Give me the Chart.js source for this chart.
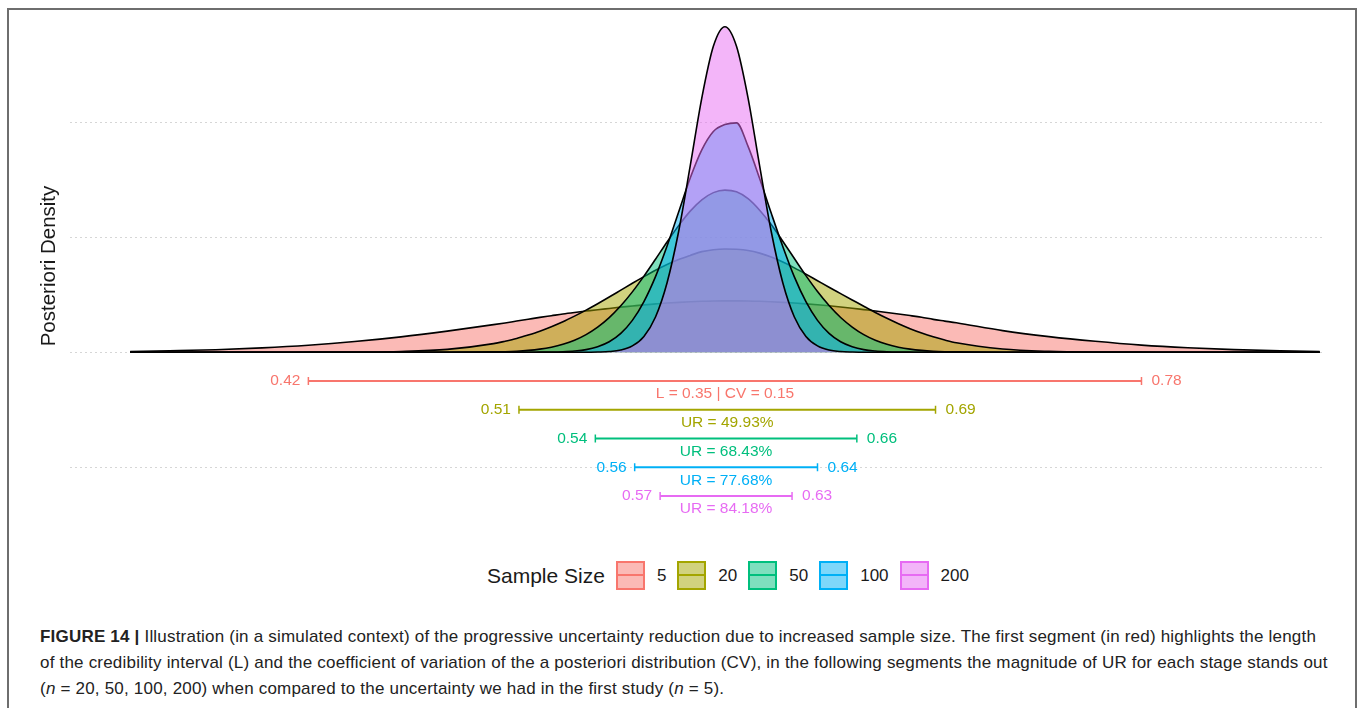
<!DOCTYPE html>
<html>
<head>
<meta charset="utf-8">
<script src="https://cdn.jsdelivr.net/npm/chart.js@4.4.1/dist/chart.umd.min.js"></script>
<style>
  body { margin: 0; background: #fff; font-family: "Liberation Sans", Arial, sans-serif; }
  #frame { position: absolute; left: 7px; top: 8px; width: 1346px; height: 720px;
           border: 2px solid #6e6e6e; border-bottom: none; }
  #wrap { position: absolute; left: 0; top: 0; width: 1357px; height: 540px; }
  #legend { position: absolute; left: 487px; top: 561px; height: 29px; display: flex; align-items: center;
            color: #1a1a1a; }
  #legend .title { font-size: 21px; margin-right: 11px; }
  #legend .box { position: relative; width: 25px; height: 25px; border: 2px solid; margin-right: 12px; }
  #legend .box::after { content: ""; position: absolute; left: 0; right: 0; top: 11px; height: 2px; background: currentColor; }
  #legend .lab { font-size: 17px; margin-right: 11px; }
  #caption { position: absolute; left: 40px; top: 624px; width: 1300px; font-size: 17px; line-height: 26px;
             letter-spacing: 0.2px; color: #222; white-space: nowrap; }
</style>
</head>
<body>
<div id="frame"></div>
<div id="wrap"><canvas id="chartDensity" width="1357" height="540"></canvas></div>
<div id="legend"></div>
<div id="caption">
  <b>FIGURE 14 |</b> Illustration (in a simulated context) of the progressive uncertainty reduction due to increased sample size. The first segment (in red) highlights the length<br>
  of the credibility interval (L) and the coefficient of variation of the a posteriori distribution (CV), in the following segments the magnitude of UR for each stage stands out<br>
  (<i>n</i> = 20, 50, 100, 200) when compared to the uncertainty we had in the first study (<i>n</i> = 5).
</div>
<script>
// Sample sizes and colours
const sampleSizes = ['5', '20', '50', '100', '200'];
const sizeColors = ['#F8766D', '#A3A500', '#00BF7D', '#00B0F6', '#E76BF3'];

// x grid of the density curves (posterior value)
const densityX = [0.343, 0.36, 0.38, 0.40, 0.42, 0.44, 0.46, 0.48,
  0.50, 0.505, 0.51, 0.515, 0.52, 0.525, 0.53, 0.535, 0.54, 0.545, 0.55, 0.555, 0.56, 0.565, 0.57, 0.575, 0.58, 0.585, 0.59, 0.595,
  0.60,
  0.605, 0.61, 0.615, 0.62, 0.625, 0.63, 0.635, 0.64, 0.645, 0.65, 0.655, 0.66, 0.665, 0.67, 0.675, 0.68, 0.685, 0.69, 0.695, 0.70,
  0.72, 0.74, 0.76, 0.78, 0.80, 0.82, 0.84, 0.857];

const density5 = [0.07, 0.13, 0.22, 0.38, 0.61, 0.93, 1.34, 1.84,
  2.40, 2.55, 2.71, 2.87, 3.03, 3.18, 3.33, 3.46, 3.58, 3.70, 3.81, 3.92, 4.02, 4.12, 4.21, 4.28, 4.34, 4.39, 4.43, 4.46,
  4.47,
  4.47, 4.46, 4.43, 4.39, 4.34, 4.28, 4.21, 4.13, 4.04, 3.94, 3.83, 3.71, 3.59, 3.46, 3.33, 3.19, 3.04, 2.86, 2.71, 2.56,
  1.88, 1.36, 0.95, 0.62, 0.39, 0.23, 0.13, 0.07];

const density20 = [0, 0, 0, 0, 0.01, 0.02, 0.07, 0.25,
  0.75, 0.96, 1.20, 1.50, 1.83, 2.22, 2.65, 3.14, 3.66, 4.22, 4.80, 5.40, 6.00, 6.58, 7.13, 7.63, 8.06, 8.42, 8.75, 8.92,
  8.98,
  8.95, 8.85, 8.62, 8.28, 7.85, 7.34, 6.79, 6.22, 5.65, 5.10, 4.55, 4.00, 3.46, 2.95, 2.48, 2.05, 1.67, 1.34, 1.06, 0.82,
  0.28, 0.08, 0.02, 0.01, 0, 0, 0, 0];

const density50 = [0, 0, 0, 0, 0, 0, 0, 0,
  0.03, 0.05, 0.09, 0.16, 0.27, 0.44, 0.69, 1.04, 1.53, 2.18, 3.01, 4.04, 5.25, 6.62, 8.09, 9.59, 11.01, 12.27, 13.25, 13.88,
  14.1,
  13.95, 13.35, 12.35, 11.1, 9.65, 8.15, 6.66, 5.28, 4.06, 3.02, 2.19, 1.53, 1.04, 0.69, 0.44, 0.27, 0.16, 0.09, 0.05, 0.03,
  0, 0, 0, 0, 0, 0, 0, 0];

const density100 = [0, 0, 0, 0, 0, 0, 0, 0,
  0, 0, 0, 0, 0.01, 0.02, 0.05, 0.11, 0.23, 0.48, 0.91, 1.64, 2.77, 4.41, 6.58, 9.24, 12.2, 15.15, 17.6, 19.2,
  19.8,
  19.95, 17.9, 15.1, 12.1, 9.2, 6.55, 4.4, 2.77, 1.64, 0.91, 0.48, 0.23, 0.11, 0.05, 0.02, 0.01, 0, 0, 0, 0,
  0, 0, 0, 0, 0, 0, 0, 0];

const density200 = [0, 0, 0, 0, 0, 0, 0, 0,
  0, 0, 0, 0, 0, 0, 0, 0, 0, 0.02, 0.06, 0.19, 0.55, 1.38, 3.07, 6.05, 10.5, 16.2, 22.1, 26.6,
  28.3,
  26.6, 22.1, 16.2, 10.5, 6.05, 3.07, 1.38, 0.55, 0.19, 0.06, 0.02, 0, 0, 0, 0, 0, 0, 0, 0, 0,
  0, 0, 0, 0, 0, 0, 0, 0];

const densities = [density5, density20, density50, density100, density200];

// Credibility intervals drawn under the curves
const intervalLow = [0.42, 0.511, 0.544, 0.561, 0.572];
const intervalHigh = [0.78, 0.691, 0.657, 0.64, 0.629];
const intervalLevel = [-2.5, -5, -7.5, -10, -12.5];
const intervalNotes = ['L = 0.35 | CV = 0.15', 'UR = 49.93%', 'UR = 68.43%', 'UR = 77.68%', 'UR = 84.18%'];

const yGridTicks = [-10, 0, 10, 20];

function alpha(hex, a) {
  const n = parseInt(hex.slice(1), 16);
  return `rgba(${n >> 16}, ${(n >> 8) & 255}, ${n & 255}, ${a})`;
}

const datasets = [];
sampleSizes.forEach((s, i) => {
  datasets.push({
    label: s,
    data: densityX.map((x, k) => ({ x: x, y: densities[i][k] })),
    borderColor: '#000',
    borderWidth: 1.6,
    backgroundColor: alpha(sizeColors[i], 0.5),
    fill: 'origin',
    cubicInterpolationMode: 'monotone',
    pointRadius: 0,
    order: sampleSizes.length - i + 1
  });
});
sampleSizes.forEach((s, i) => {
  datasets.push({
    label: 'CI ' + s,
    data: [{ x: intervalLow[i], y: intervalLevel[i] }, { x: intervalHigh[i], y: intervalLevel[i] }],
    borderColor: sizeColors[i],
    borderWidth: 2,
    fill: false,
    pointStyle: 'line',
    pointRotation: 90,
    pointRadius: 4,
    pointBorderWidth: 1.5,
    pointBorderColor: sizeColors[i],
    order: 0
  });
});

// interval numbers and notes
const intervalText = {
  id: 'intervalText',
  afterDatasetsDraw(chart) {
    const ctx = chart.ctx;
    const xs = chart.scales.x, ys = chart.scales.y;
    ctx.save();
    ctx.font = '15.5px "Liberation Sans", Arial, sans-serif';
    ctx.textBaseline = 'middle';
    sampleSizes.forEach((s, i) => {
      const y = ys.getPixelForValue(intervalLevel[i]);
      const x0 = xs.getPixelForValue(intervalLow[i]);
      const x1 = xs.getPixelForValue(intervalHigh[i]);
      ctx.fillStyle = sizeColors[i];
      ctx.textAlign = 'right';
      ctx.fillText(intervalLow[i].toFixed(2), x0 - 8, y);
      ctx.textAlign = 'left';
      ctx.fillText(intervalHigh[i].toFixed(2), x1 + 10, y);
      ctx.textAlign = 'center';
      ctx.fillText(intervalNotes[i], (x0 + x1) / 2, y + 13);
    });
    ctx.restore();
  }
};

new Chart(document.getElementById('chartDensity').getContext('2d'), {
  type: 'line',
  data: { datasets: datasets },
  plugins: [intervalText],
  options: {
    responsive: false,
    animation: false,
    layout: { padding: { top: 13, right: 35, bottom: 21, left: 0 } },
    plugins: { legend: { display: false }, tooltip: { enabled: false } },
    scales: {
      x: { type: 'linear', min: 0.317, max: 0.858, display: false },
      y: {
        min: -14.5, max: 29.5,
        afterFit(scale) { scale.width = 70; },
        afterBuildTicks(scale) { scale.ticks = yGridTicks.map(v => ({ value: v })); },
        ticks: { display: false },
        grid: { color: '#d6d6d6', lineWidth: 1, drawTicks: false },
        border: { display: false, dash: [2, 3] },
        title: {
          display: true, text: 'Posteriori Density', color: '#1a1a1a',
          font: { size: 20.5, family: '"Liberation Sans", Arial, sans-serif' },
          padding: { top: 37 }
        }
      }
    }
  }
});

// legend
const legend = document.getElementById('legend');
legend.innerHTML = '<span class="title">Sample Size</span>' + sampleSizes.map((s, i) =>
  `<span class="box" style="border-color:${sizeColors[i]};color:${sizeColors[i]};background:${alpha(sizeColors[i], 0.5)}"></span>` +
  `<span class="lab">${s}</span>`).join('');
</script>
</body>
</html>
